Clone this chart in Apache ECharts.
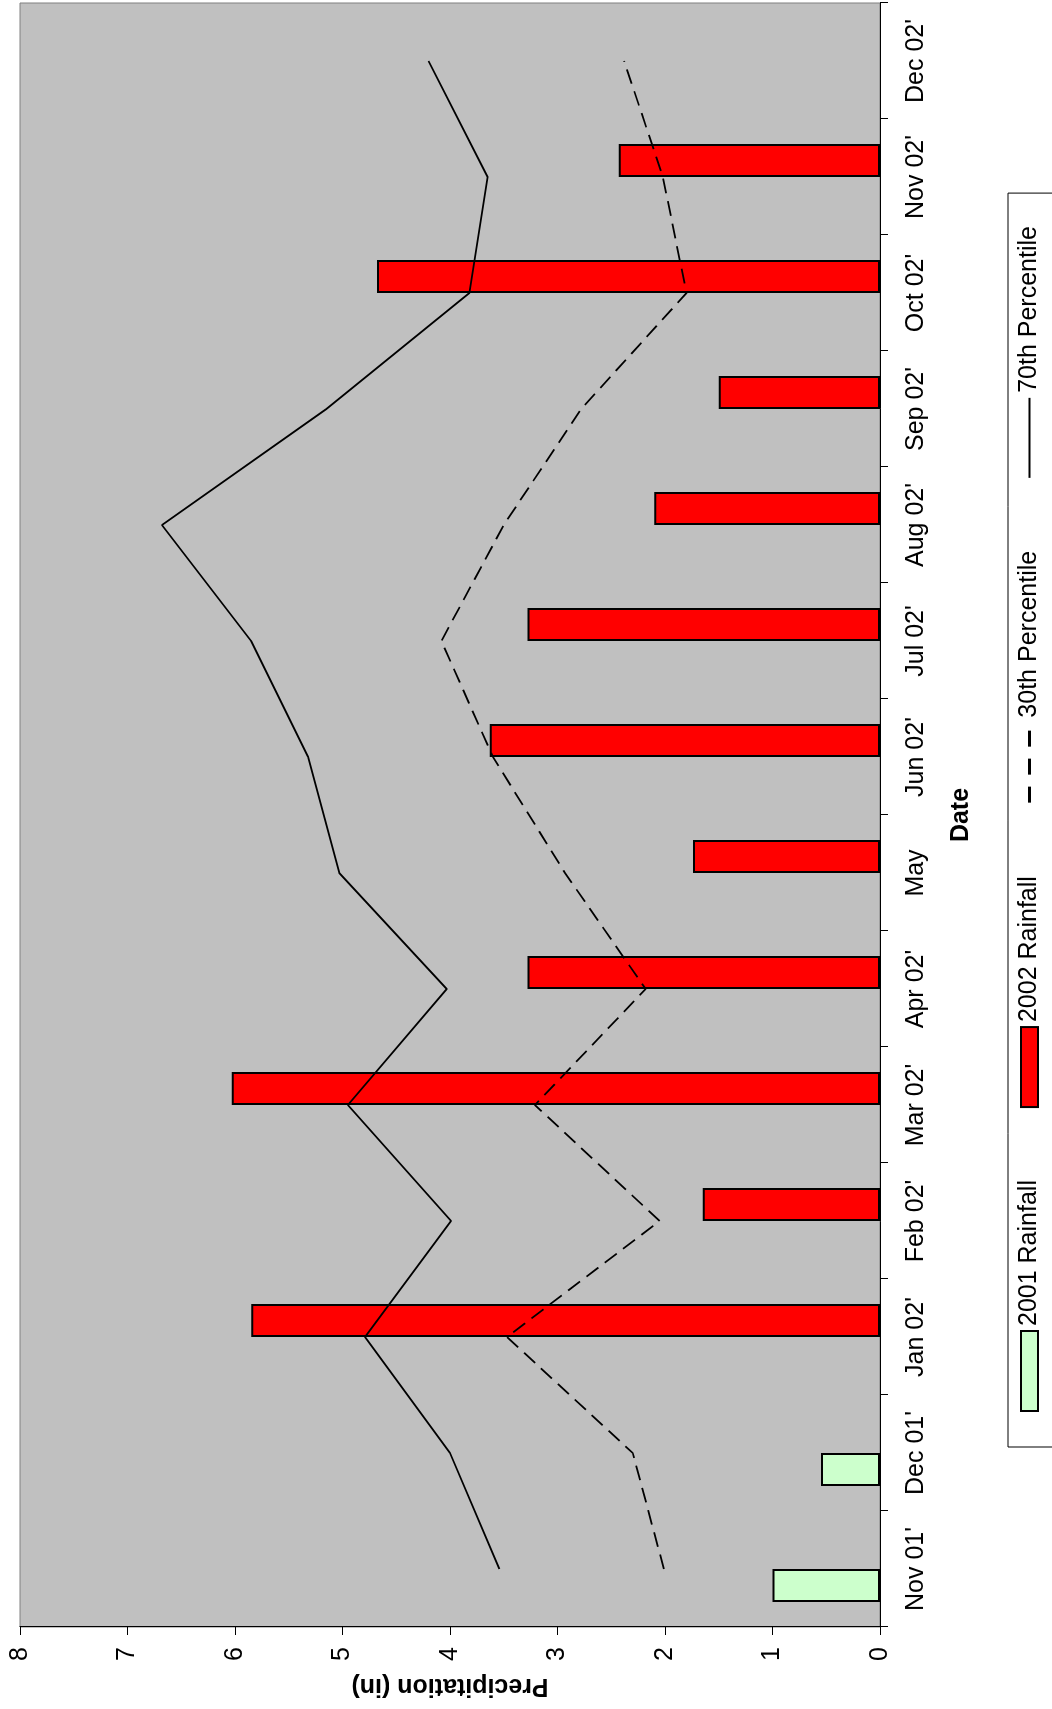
<!DOCTYPE html>
<html>
<head>
<meta charset="utf-8">
<script src="https://cdn.jsdelivr.net/npm/echarts@6/dist/echarts.min.js"></script>
<style>
  html, body { margin: 0; padding: 0; background: #fff; overflow: hidden; width: 1052px; height: 1709px; }
  /* the chart is drawn landscape and turned a quarter turn to the left */
  #chart {
    position: absolute; left: 0; top: 0;
    width: 1709px; height: 1052px;
    transform-origin: 0 0;
    transform: translateY(1709px) rotate(-90deg);
  }
</style>
</head>
<body>
<div id="chart"></div>
<script>
  const categories = ["Nov 01'", "Dec 01'", "Jan 02'", "Feb 02'", "Mar 02'", "Apr 02'", 'May',
    "Jun 02'", "Jul 02'", "Aug 02'", "Sep 02'", "Oct 02'", "Nov 02'", "Dec 02'"]
  const rain2001 = [1.00, 0.55, null, null, null, null, null, null, null, null, null, null, null, null]
  const rain2002 = [null, null, 5.85, 1.65, 6.03, 3.28, 1.74, 3.63, 3.28, 2.10, 1.50, 4.68, 2.43, null]
  const pct30 = [2.01, 2.30, 3.47, 2.05, 3.21, 2.18, 2.93, 3.60, 4.08, 3.50, 2.78, 1.80, 2.02, 2.38]
  const pct70 = [3.54, 4.00, 4.79, 3.99, 4.95, 4.03, 5.03, 5.32, 5.85, 6.68, 5.15, 3.82, 3.65, 4.20]
  const valueTicks = [0, 8, 1] // min, max, step

  const font = 'Liberation Sans, Arial, sans-serif'
  const chart = echarts.init(document.getElementById('chart'), null, {renderer: 'canvas'})

  // hide the marker dot that line series put in their legend key
  const noDot = {color: 'rgba(0,0,0,0)', borderWidth: 0, opacity: 0}

  chart.setOption({
    animation: false,
    textStyle: {fontFamily: font, color: '#000'},
    grid: {
      left: 82,
      right: 3,
      top: 20,
      height: 860,
      show: true,
      backgroundColor: '#c0c0c0',
      borderColor: '#808080',
      borderWidth: 1
    },
    legend: {
      left: 262,
      top: 1008,
      padding: [9, 33, 30, 35],
      borderColor: '#000',
      borderWidth: 1,
      itemWidth: 80,
      itemHeight: 17,
      itemGap: 72,
      textStyle: {fontFamily: font, fontSize: 25, color: '#000'},
      data: [
        {name: '2001 Rainfall', icon: 'rect'},
        {name: '2002 Rainfall', icon: 'rect'},
        {name: '30th Percentile', itemStyle: noDot, lineStyle: {width: 3, type: [16, 12]}},
        {name: '70th Percentile', itemStyle: noDot, lineStyle: {width: 2}}
      ]
    },
    xAxis: {
      type: 'category',
      data: categories,
      boundaryGap: true,
      name: 'Date',
      nameLocation: 'middle',
      nameGap: 69,
      nameTextStyle: {fontFamily: font, fontSize: 25, fontWeight: 'bold', color: '#000'},
      axisLine: {lineStyle: {color: '#000', width: 1}},
      axisTick: {show: true, length: 8, lineStyle: {color: '#000'}},
      axisLabel: {fontFamily: font, fontSize: 25, color: '#000', margin: 24, interval: 0}
    },
    yAxis: {
      type: 'value',
      min: valueTicks[0],
      max: valueTicks[1],
      interval: valueTicks[2],
      name: 'Precipitation (in)',
      nameLocation: 'middle',
      nameGap: 46,
      nameTextStyle: {fontFamily: font, fontSize: 25, fontWeight: 'bold', color: '#000'},
      axisLine: {show: true, lineStyle: {color: '#000', width: 1}},
      axisTick: {show: true, length: 8, lineStyle: {color: '#000'}},
      axisLabel: {fontFamily: font, fontSize: 25, color: '#000', margin: 20},
      splitLine: {show: false}
    },
    series: [
      {
        name: '2001 Rainfall',
        type: 'bar',
        barWidth: 33,
        barGap: '0%',
        itemStyle: {color: '#ccffcc', borderColor: '#000', borderWidth: 2},
        data: rain2001
      },
      {
        name: '2002 Rainfall',
        type: 'bar',
        barWidth: 33,
        barGap: '0%',
        itemStyle: {color: '#ff0000', borderColor: '#000', borderWidth: 2},
        data: rain2002
      },
      {
        name: '30th Percentile',
        type: 'line',
        symbol: 'none',
        z: 5,
        lineStyle: {color: '#000', width: 1.8, type: [15, 8]},
        itemStyle: {color: '#000'},
        data: pct30
      },
      {
        name: '70th Percentile',
        type: 'line',
        symbol: 'none',
        z: 5,
        lineStyle: {color: '#000', width: 1.8},
        itemStyle: {color: '#000'},
        data: pct70
      }
    ]
  })
</script>
</body>
</html>
